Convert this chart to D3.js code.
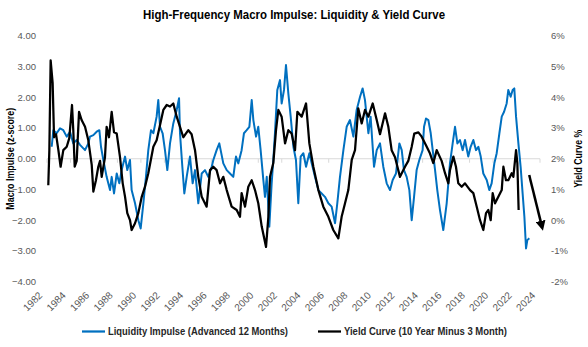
<!DOCTYPE html>
<html>
<head>
<meta charset="utf-8">
<script src="https://cdn.jsdelivr.net/npm/d3@7"></script>
<style>
body { margin: 0; background: #fff; }
text { font-family: "Liberation Sans Narrow", "Liberation Sans", Arial, sans-serif; }
.bold { font-family: "Liberation Sans", Arial, sans-serif; font-weight: bold; }
</style>
</head>
<body>
<svg id="chart" width="588" height="347"></svg>
<script>
var width = 588;
var height = 347;

var chartTitle = "High-Frequency Macro Impulse: Liquidity & Yield Curve";
var leftTitle = "Macro Impulse (z-score)";
var rightTitle = "Yield Curve %";
var seriesNames = ["Liquidity Impulse (Advanced 12 Months)", "Yield Curve (10 Year Minus 3 Month)"];
var seriesColors = ["#0070c0", "#000000"];

var leftTicks = [-4, -3, -2, -1, 0, 1, 2, 3, 4];
var rightTicks = [-2, -1, 0, 1, 2, 3, 4, 5, 6];
var yearTicks = d3.range(1982, 2025, 2);

// liquidity impulse, z-score (left axis)
var liqDates = [1982.40, 1982.54, 1982.82, 1983.11, 1983.39, 1983.68, 1983.96, 1984.24, 1984.53, 1984.81,
  1985.24, 1985.52, 1985.66, 1985.95, 1986.23, 1986.46, 1986.60, 1986.80, 1987.08, 1987.37,
  1987.51, 1987.71, 1987.94, 1988.16, 1988.36, 1988.65, 1988.84, 1989.07, 1989.21, 1989.50,
  1989.78, 1989.98, 1990.21, 1990.43, 1990.63, 1990.86, 1991.06, 1991.34, 1991.48, 1991.63,
  1991.85, 1992.05, 1992.25, 1992.48, 1992.76, 1993.05, 1993.25, 1993.33, 1993.53, 1993.70,
  1993.90, 1994.18, 1994.41, 1994.61, 1994.89, 1995.18, 1995.46, 1995.74, 1996.03, 1996.17,
  1996.45, 1996.68, 1997.02, 1997.31, 1997.59, 1997.87, 1998.10, 1998.30, 1998.58, 1998.78,
  1999.01, 1999.24, 1999.44, 1999.58, 1999.81, 2000.00, 2000.20, 2000.43, 2000.57, 2000.72,
  2000.94, 2001.14, 2001.28, 2001.42, 2001.62, 2001.85, 2001.99, 2002.19, 2002.36, 2002.56,
  2002.76, 2002.99, 2003.21, 2003.41, 2003.61, 2003.84, 2004.07, 2004.35, 2004.55, 2004.83,
  2005.12, 2005.40, 2005.68, 2005.97, 2006.25, 2006.54, 2006.73, 2006.96, 2007.25, 2007.53,
  2007.81, 2008.10, 2008.38, 2008.67, 2008.89, 2009.09, 2009.38, 2009.57, 2009.86, 2010.09,
  2010.37, 2010.65, 2010.94, 2011.22, 2011.45, 2011.73, 2012.02, 2012.22, 2012.41, 2012.64,
  2012.87, 2013.07, 2013.27, 2013.49, 2013.72, 2014.00, 2014.12, 2014.29, 2014.49, 2014.69,
  2014.86, 2015.06, 2015.25, 2015.48, 2015.76, 2016.05, 2016.33, 2016.56, 2016.76, 2016.96,
  2017.18, 2017.41, 2017.61, 2017.89, 2018.09, 2018.32, 2018.55, 2018.75, 2018.95, 2019.17,
  2019.46, 2019.68, 2019.88, 2020.11, 2020.31, 2020.54, 2020.74, 2020.94, 2021.16, 2021.30,
  2021.50, 2021.67, 2021.81, 2021.96, 2022.16, 2022.35, 2022.52, 2022.67, 2022.81, 2022.92,
  2023.09];
var liqImpulse = [0.39, 0.93, 0.83, 0.99, 0.93, 0.72, 0.88, 0.50, 0.61, 0.45,
  0.28, 0.50, 0.72, 0.77, 0.88, 0.93, 0.39, -0.04, -0.59, -1.02,
  -0.59, -1.13, -0.48, -0.80, -0.37, 0.07, -0.37, -0.04, -1.02, -1.45,
  -2.00, -2.27, -1.45, -0.59, 0.28, 0.93, 0.83, 1.37, 1.91, 1.04,
  0.83, 0.28, -0.37, 0.50, 1.15, 1.59, 1.97, 0.83, -0.26, -1.13,
  -0.59, 0.07, -0.80, -0.37, -1.45, -0.48, -0.37, -0.59, -0.26, -0.04,
  0.28, 0.50, -0.15, -0.37, -0.48, -0.59, 0.07, -0.15, 0.28, 0.83,
  0.93, 1.04, 1.91, 1.26, 0.72, 1.04, 0.28, -0.69, -1.24, -0.59,
  -2.21, -0.80, -0.04, 0.83, 2.24, 2.56, 1.80, 2.24, 3.05, 2.13,
  1.37, 0.39, -0.04, -1.45, 0.07, 0.18, -0.26, 0.18, -0.15, -0.59,
  -1.02, -1.13, -1.24, -1.45, -1.56, -2.10, -1.45, -0.59, 0.28, 1.04,
  1.26, 0.72, 1.59, 2.02, 2.29, 1.91, 0.83, 1.37, -0.26, 0.28,
  0.50, -0.26, -0.80, -1.02, -0.69, -0.48, 0.50, 0.28, -0.37, -0.59,
  -1.02, -2.00, -1.24, -0.37, -0.04, 0.28, 1.04, 1.31, 1.26, 0.83,
  0.28, -0.37, -1.02, -1.67, -2.32, -1.45, -0.15, 0.50, 1.04, 0.50,
  0.61, 0.28, 0.61, 0.07, 0.39, 0.61, 0.28, 0.39, 0.07, -0.48,
  -0.69, -1.02, -0.80, -0.15, 0.18, 0.83, 1.37, 1.53, 1.80, 2.24,
  2.02, 2.24, 2.29, 1.37, 0.50, -0.26, -1.13, -1.89, -2.92, -2.65,
  -2.59];

// 10y minus 3m spread in % (right axis)
var ycDates = [1982.11, 1982.20, 1982.31, 1982.48, 1982.60, 1982.77, 1982.97, 1983.16, 1983.39, 1983.68,
  1983.90, 1984.13, 1984.24, 1984.36, 1984.53, 1984.73, 1984.95, 1985.24, 1985.52, 1985.81,
  1985.95, 1986.17, 1986.37, 1986.52, 1986.66, 1986.94, 1987.08, 1987.28, 1987.51, 1987.71,
  1987.94, 1988.22, 1988.45, 1988.65, 1988.84, 1989.07, 1989.21, 1989.50, 1989.78, 1990.07,
  1990.35, 1990.63, 1991.06, 1991.34, 1991.63, 1991.91, 1992.20, 1992.48, 1992.76, 1993.05,
  1993.33, 1993.61, 1994.04, 1994.32, 1994.61, 1994.89, 1995.18, 1995.60, 1995.89, 1996.17,
  1996.45, 1996.74, 1997.02, 1997.31, 1997.73, 1998.16, 1998.44, 1998.58, 1998.87, 1999.15,
  1999.44, 1999.72, 2000.00, 2000.29, 2000.66, 2000.86, 2001.00, 2001.28, 2001.51, 2001.71,
  2001.99, 2002.28, 2002.56, 2002.84, 2003.13, 2003.33, 2003.70, 2004.07, 2004.35, 2004.69,
  2005.12, 2005.54, 2005.97, 2006.39, 2006.82, 2007.10, 2007.39, 2007.67, 2007.96, 2008.24,
  2008.52, 2008.81, 2009.09, 2009.38, 2009.75, 2010.09, 2010.37, 2010.80, 2011.08, 2011.36,
  2011.65, 2012.07, 2012.50, 2012.78, 2013.07, 2013.29, 2013.64, 2013.92, 2014.35, 2014.63,
  2014.91, 2015.20, 2015.62, 2015.91, 2016.19, 2016.33, 2016.62, 2016.84, 2017.04, 2017.33,
  2017.61, 2018.04, 2018.32, 2018.61, 2018.89, 2019.17, 2019.40, 2019.60, 2019.80, 2019.97,
  2020.17, 2020.45, 2020.74, 2020.88, 2021.10, 2021.30, 2021.59, 2021.73, 2021.96, 2022.07,
  2022.18];
var ycSpread = [1.14, 2.28, 5.20, 4.47, 2.70, 2.80, 2.28, 1.74, 2.28, 2.39,
  2.67, 3.75, 2.93, 1.74, 1.93, 3.53, 3.26, 3.04, 2.60, 1.80,
  0.93, 1.30, 1.74, 1.93, 1.41, 2.05, 3.04, 2.70, 3.53, 2.86,
  2.82, 2.05, 1.20, 0.76, 0.23, 0.00, -0.32, -0.10, 0.23, 0.76,
  1.09, 1.53, 2.39, 2.60, 3.10, 3.59, 3.75, 3.70, 3.80, 3.37,
  3.04, 2.70, 2.93, 2.80, 2.28, 1.41, 0.76, 0.44, 1.63, 1.74,
  1.63, 1.20, 1.41, 0.98, 0.44, 0.33, 0.11, 0.88, 0.44, 1.09,
  1.30, 0.98, 0.55, -0.20, -0.87, 0.11, 1.41, 1.86, 2.93, 3.59,
  3.37, 2.50, 2.93, 2.82, 2.28, 3.53, 3.37, 3.80, 2.50, 1.74,
  0.98, 0.44, 0.11, -0.32, -0.59, 0.11, 0.55, 0.98, 1.96, 2.28,
  3.64, 3.15, 3.59, 3.37, 3.80, 3.26, 2.80, 3.48, 3.04, 2.28,
  2.05, 1.41, 1.74, 1.93, 2.39, 2.82, 2.86, 2.72, 2.39, 2.17,
  1.86, 2.28, 1.93, 1.53, 1.20, 1.63, 2.07, 1.74, 1.20, 1.09,
  1.20, 0.98, 0.88, 0.44, 0.00, -0.32, 0.23, 0.33, 0.00, 0.88,
  0.55, 0.76, 0.98, 1.74, 1.30, 1.30, 1.53, 1.41, 2.28, 1.86,
  0.33];

// hand-drawn arrow annotation, in data units (year, yield %)
var arrowFrom = [2023.08, 1.47];
var arrowTo = [2024.32, -0.38];

var svg = d3.select("#chart");
svg.append("rect").attr("width", width).attr("height", height).attr("fill", "#fff");

var x = d3.scaleLinear().domain([1982, 2024]).range([47, 540]);
var yLeft = d3.scaleLinear().domain([-4, 4]).range([281.6, 35.9]);
var yRight = d3.scaleLinear().domain([-2, 6]).range([281.6, 35.9]);

// zero gridline + year ticks
svg.append("line")
    .attr("x1", x(1982)).attr("x2", x(2024))
    .attr("y1", yLeft(0)).attr("y2", yLeft(0))
    .attr("stroke", "#d9d9d9").attr("stroke-width", 1);

svg.selectAll(".xtick").data(yearTicks).enter().append("line")
    .attr("class", "xtick")
    .attr("x1", function(d) { return x(d); }).attr("x2", function(d) { return x(d); })
    .attr("y1", yLeft(0)).attr("y2", yLeft(0) + 4)
    .attr("stroke", "#d9d9d9");

// left axis labels
svg.selectAll(".ltick").data(leftTicks).enter().append("text")
    .attr("class", "ltick")
    .attr("x", 36).attr("y", function(d) { return yLeft(d); })
    .attr("dy", "0.35em").attr("text-anchor", "end")
    .attr("font-size", 9.5).attr("fill", "#595959")
    .text(function(d) { return d3.format(".2f")(d); });

// right axis labels
svg.selectAll(".rtick").data(rightTicks).enter().append("text")
    .attr("class", "rtick")
    .attr("x", 551).attr("y", function(d) { return yRight(d); })
    .attr("dy", "0.35em").attr("text-anchor", "start")
    .attr("font-size", 9.5).attr("fill", "#595959")
    .text(function(d) { return d + "%"; });

// year labels, rotated
svg.selectAll(".year").data(yearTicks).enter().append("text")
    .attr("class", "year")
    .attr("transform", function(d) { return "translate(" + (x(d) - 4) + ",296) rotate(-45)"; })
    .attr("text-anchor", "end")
    .attr("font-size", 10).attr("fill", "#595959")
    .text(function(d) { return d; });

// series
var liqLine = d3.line()
    .x(function(d, i) { return x(liqDates[i]); })
    .y(function(d) { return yLeft(d); });
var ycLine = d3.line()
    .x(function(d, i) { return x(ycDates[i]); })
    .y(function(d) { return yRight(d); });

svg.append("path").datum(liqImpulse)
    .attr("d", liqLine)
    .attr("fill", "none").attr("stroke", seriesColors[0])
    .attr("stroke-width", 2).attr("stroke-linejoin", "round");

svg.append("path").datum(ycSpread)
    .attr("d", ycLine)
    .attr("fill", "none").attr("stroke", seriesColors[1])
    .attr("stroke-width", 2.25).attr("stroke-linejoin", "round");

// arrow
svg.append("defs").append("marker")
    .attr("id", "head")
    .attr("viewBox", "0 0 10 10").attr("refX", 5).attr("refY", 5)
    .attr("markerWidth", 4).attr("markerHeight", 4)
    .attr("orient", "auto")
    .append("path").attr("d", "M0,0 L10,5 L0,10 z").attr("fill", "#000");

svg.append("line")
    .attr("x1", x(arrowFrom[0])).attr("y1", yRight(arrowFrom[1]))
    .attr("x2", x(arrowTo[0]) - 2).attr("y2", yRight(arrowTo[1]) - 6)
    .attr("stroke", "#000").attr("stroke-width", 2.5)
    .attr("marker-end", "url(#head)");

// titles
svg.append("text")
    .attr("class", "bold")
    .attr("x", 294).attr("y", 19)
    .attr("text-anchor", "middle")
    .attr("font-size", 12.5).attr("fill", "#000")
    .attr("textLength", 302).attr("lengthAdjust", "spacingAndGlyphs")
    .text(chartTitle);

svg.append("text")
    .attr("class", "bold")
    .attr("transform", "translate(14," + yLeft(0) + ") rotate(-90)")
    .attr("text-anchor", "middle")
    .attr("font-size", 10).attr("fill", "#000")
    .attr("textLength", 102).attr("lengthAdjust", "spacingAndGlyphs")
    .text(leftTitle);

svg.append("text")
    .attr("class", "bold")
    .attr("transform", "translate(582," + yLeft(0) + ") rotate(-90)")
    .attr("text-anchor", "middle")
    .attr("font-size", 10).attr("fill", "#000")
    .attr("textLength", 58).attr("lengthAdjust", "spacingAndGlyphs")
    .text(rightTitle);

// legend
var legendX = [82, 318];
var legendW = [180, 163];
var legend = svg.selectAll(".legend").data(seriesNames).enter().append("g")
    .attr("class", "legend")
    .attr("transform", function(d, i) { return "translate(" + legendX[i] + ",331.5)"; });

legend.append("line")
    .attr("x1", 0).attr("x2", 23)
    .attr("stroke", function(d, i) { return seriesColors[i]; })
    .attr("stroke-width", 2.25);

legend.append("text")
    .attr("class", "bold")
    .attr("x", 26).attr("dy", "0.35em")
    .attr("font-size", 10).attr("fill", "#262626")
    .attr("textLength", function(d, i) { return legendW[i]; })
    .attr("lengthAdjust", "spacingAndGlyphs")
    .text(function(d) { return d; });
</script>
</body>
</html>
